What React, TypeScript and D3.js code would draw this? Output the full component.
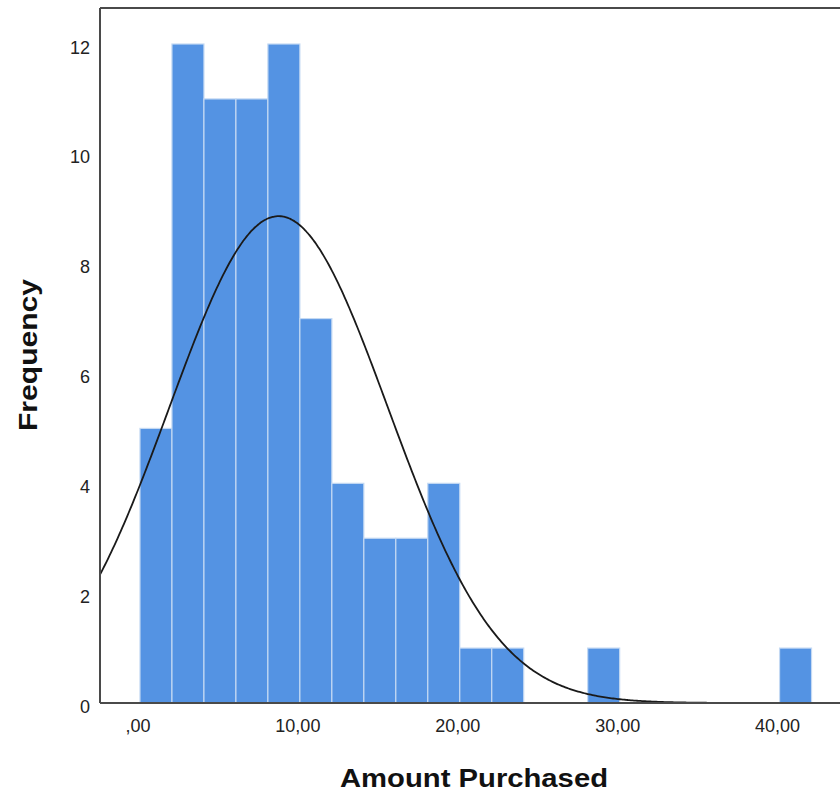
import React, { useEffect, useRef } from 'react';
import * as d3 from 'd3';

// histogram bins (lower edge) and counts, bin width 2
const binStarts = [0, 2, 4, 6, 8, 10, 12, 14, 16, 18, 20, 22, 24, 26, 28, 30, 32, 34, 36, 38, 40];
const counts = [5, 12, 11, 11, 12, 7, 4, 3, 3, 4, 1, 1, 0, 0, 1, 0, 0, 0, 0, 0, 1];
const binWidth = 2;
const xTicks = [0, 10, 20, 30, 40];
const xTickLabels = [',00', '10,00', '20,00', '30,00', '40,00'];
const yTicks = [0, 2, 4, 6, 8, 10, 12];
const curveMean = 8.67;
const curveSd = 6.84;

function App() {
  const ref = useRef<SVGSVGElement>(null);

  useEffect(() => {
    const width = 840;
    const height = 795;
    const left = 100;
    const top = 8;
    const bottom = 703;

    const svg = d3.select(ref.current);
    svg.selectAll('*').remove();
    svg.attr('width', width).attr('height', height);

    const x = d3.scaleLinear().domain([-2.5, 43.78]).range([left, width]);
    const y = d3.scaleLinear().domain([0, 12]).range([bottom, 44]);

    const bins = binStarts.map((s, i) => ({ start: s, count: counts[i] })).filter(d => d.count > 0);

    svg.append('defs').append('clipPath').attr('id', 'plotclip')
      .append('rect').attr('x', left).attr('y', top).attr('width', width - left).attr('height', bottom - top);

    svg.append('g')
      .selectAll('rect')
      .data(bins)
      .join('rect')
      .attr('x', d => x(d.start))
      .attr('y', d => y(d.count))
      .attr('width', d => x(d.start + binWidth) - x(d.start))
      .attr('height', d => y(0) - y(d.count))
      .attr('fill', '#5493e3')
      .attr('stroke', '#c4d9f3')
      .attr('stroke-width', 1.2);

    // normal curve
    const n = d3.sum(counts);
    const pdf = (v: number) =>
      (n * binWidth) / (curveSd * Math.sqrt(2 * Math.PI)) * Math.exp(-((v - curveMean) ** 2) / (2 * curveSd * curveSd));
    const xs = d3.range(-2.5, 43.8, 0.1);
    const line = d3.line<number>().x(v => x(v)).y(v => y(pdf(v))).curve(d3.curveBasis);
    svg.append('path')
      .datum(xs)
      .attr('d', line)
      .attr('fill', 'none')
      .attr('stroke', '#1a1a1a')
      .attr('stroke-width', 1.8)
      .attr('clip-path', 'url(#plotclip)');

    // frame
    svg.append('line').attr('x1', left).attr('x2', width).attr('y1', top).attr('y2', top)
      .attr('stroke', '#4a4a4a').attr('stroke-width', 2);
    svg.append('line').attr('x1', left).attr('x2', left).attr('y1', top).attr('y2', bottom)
      .attr('stroke', '#4a4a4a').attr('stroke-width', 2);
    svg.append('line').attr('x1', left).attr('x2', width).attr('y1', bottom).attr('y2', bottom)
      .attr('stroke', '#4a4a4a').attr('stroke-width', 2);

    const font = 'Liberation Sans, Arial, sans-serif';

    svg.append('g')
      .selectAll('text')
      .data(xTicks)
      .join('text')
      .attr('x', d => x(d) - 2)
      .attr('y', 732)
      .attr('text-anchor', 'middle')
      .attr('font-family', font)
      .attr('font-size', 18)
      .attr('fill', '#222')
      .text((d, i) => xTickLabels[i]);

    svg.append('g')
      .selectAll('text')
      .data(yTicks)
      .join('text')
      .attr('x', 90)
      .attr('y', d => y(d) + 9.5)
      .attr('text-anchor', 'end')
      .attr('font-family', font)
      .attr('font-size', 18)
      .attr('fill', '#222')
      .text(d => d);

    svg.append('text')
      .attr('x', 474)
      .attr('y', 787)
      .attr('text-anchor', 'middle')
      .attr('font-family', font)
      .attr('font-weight', 'bold')
      .attr('font-size', 26)
      .attr('textLength', 268)
      .attr('lengthAdjust', 'spacingAndGlyphs')
      .attr('fill', '#111')
      .text('Amount Purchased');

    svg.append('text')
      .attr('transform', 'translate(37,355) rotate(-90)')
      .attr('text-anchor', 'middle')
      .attr('font-family', font)
      .attr('font-weight', 'bold')
      .attr('font-size', 26)
      .attr('textLength', 152)
      .attr('lengthAdjust', 'spacingAndGlyphs')
      .attr('fill', '#111')
      .text('Frequency');
  }, []);

  return (
    <div style={{ position: 'absolute', left: 0, top: 0 }}>
      <svg ref={ref} style={{ display: 'block', background: '#fff' }}></svg>
    </div>
  );
}

export default App;
